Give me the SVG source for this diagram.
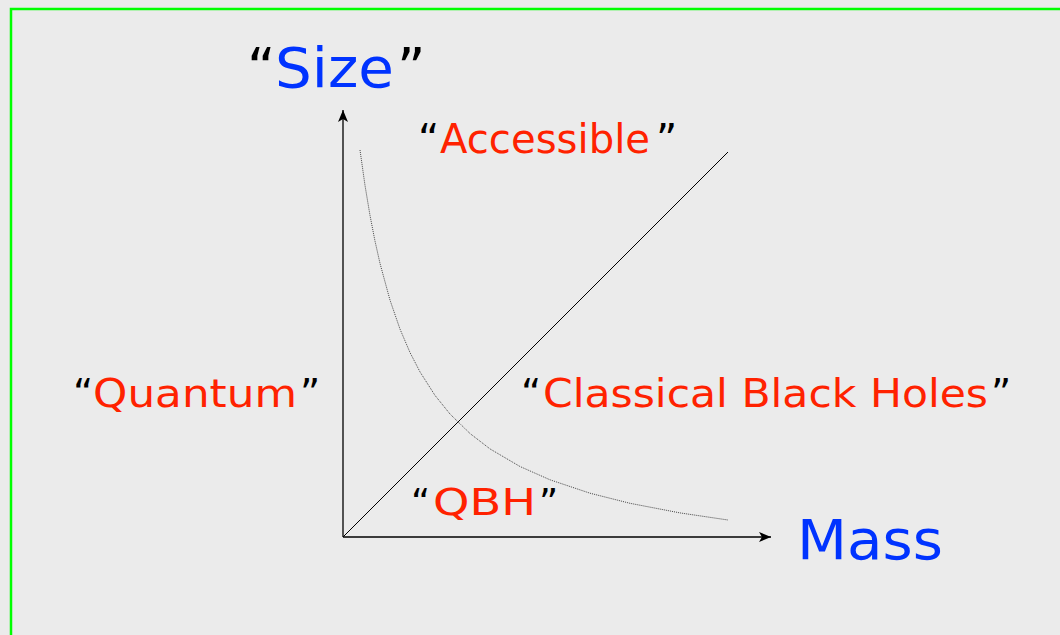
<svg xmlns="http://www.w3.org/2000/svg" width="1060" height="635" viewBox="0 0 1060 635">
<style>
text{font-family:"DejaVu Sans","Liberation Sans",sans-serif}
.q{fill:#000}
.r{fill:#ff2200}
.b{fill:#0033ff}
.axis{stroke:#000;stroke-width:1.3;fill:none}
</style>
<defs>
<marker id="ah" markerWidth="12" markerHeight="10" refX="12" refY="5" orient="auto" markerUnits="userSpaceOnUse">
<path d="M0,0 L12,5 L0,10 L3,5 Z" fill="#000"/>
</marker>
</defs>
<rect x="0" y="0" width="1060" height="635" fill="#ebebeb"/>
<rect x="11" y="9" width="1060" height="640" fill="none" stroke="#00ff00" stroke-width="2.5"/>
<g id="connectors">
<line class="axis" x1="343" y1="537" x2="343" y2="110" marker-end="url(#ah)"/>
<line class="axis" x1="343" y1="537" x2="771" y2="537" marker-end="url(#ah)"/>
<line x1="343" y1="537" x2="728" y2="152" stroke="#000" stroke-width="1"/>
<path d="M360,150 L365,185.4 L370,215.4 L375,241.1 L380,263.4 L390,300.1 L400,329.1 L410,352.5 L420,371.9 L435,395.4 L450,414 L470,433.5 L490,448.9 L520,466.5 L550,479.8 L590,493.2 L630,503.3 L680,512.9 L728,520" fill="none" stroke="#333" stroke-width="0.9" stroke-dasharray="1 1"/>
</g>
<g id="size">
<text font-size="55" y="87"><tspan class="q" x="247">“</tspan><tspan class="b" x="275" textLength="119" lengthAdjust="spacingAndGlyphs">Size</tspan><tspan class="q" x="397">”</tspan></text>
</g>
<g id="mass">
<text font-size="56" y="559"><tspan class="b" x="797" textLength="146" lengthAdjust="spacingAndGlyphs">Mass</tspan></text>
</g>
<g id="accessible">
<text font-size="41" y="153"><tspan class="q" x="418">“</tspan><tspan class="r" x="440" textLength="210" lengthAdjust="spacingAndGlyphs">Accessible</tspan><tspan class="q" x="656">”</tspan></text>
</g>
<g id="quantum">
<text font-size="39" y="407"><tspan class="q" x="73">“</tspan><tspan class="r" x="93" textLength="204" lengthAdjust="spacingAndGlyphs">Quantum</tspan><tspan class="q" x="300">”</tspan></text>
</g>
<g id="classical">
<text font-size="39" y="407"><tspan class="q" x="521">“</tspan><tspan class="r" x="543" textLength="445" lengthAdjust="spacingAndGlyphs">Classical Black Holes</tspan><tspan class="q" x="991">”</tspan></text>
</g>
<g id="qbh">
<text font-size="37" y="515"><tspan class="q" x="411">“</tspan><tspan class="r" x="433" textLength="103" lengthAdjust="spacingAndGlyphs">QBH</tspan><tspan class="q" x="539">”</tspan></text>
</g>
</svg>
